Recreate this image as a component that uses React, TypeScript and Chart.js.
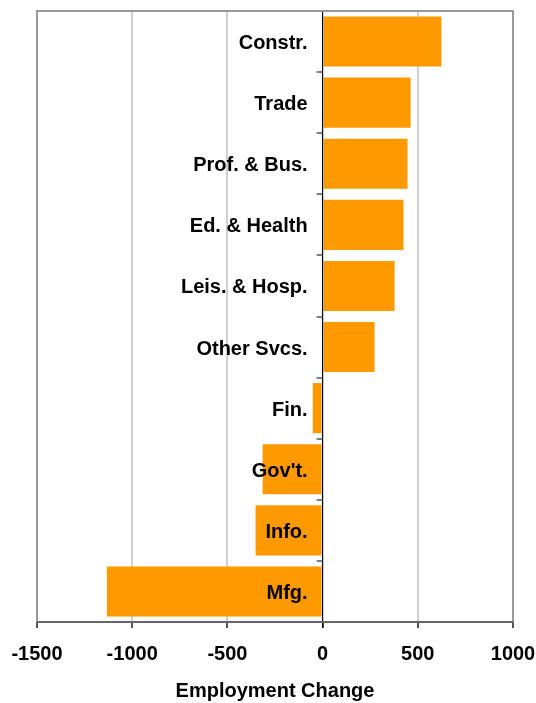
import React, { useEffect, useRef } from "react";
import { Chart, registerables } from "chart.js";

Chart.register(...registerables);

const categories = [
  "Constr.",
  "Trade",
  "Prof. & Bus.",
  "Ed. & Health",
  "Leis. & Hosp.",
  "Other Svcs.",
  "Fin.",
  "Gov't.",
  "Info.",
  "Mfg.",
];
const changes = [624, 462, 446, 425, 378, 273, -52, -315, -352, -1133];
const xMin = -1500;
const xMax = 1000;
const xStep = 500;
const axisTitle = "Employment Change";

const FONT = "'Liberation Sans', Arial, Helvetica, sans-serif";

const overlayPlugin = {
  id: "overlay",
  afterDatasetsDraw(chart: any) {
    const { ctx, chartArea, scales } = chart;
    const { left, right, top, bottom } = chartArea;
    const x0 = scales.x.getPixelForValue(0);
    const n = categories.length;
    const band = (bottom - top) / n;
    ctx.save();
    // category labels
    ctx.font = `bold 20px ${FONT}`;
    ctx.fillStyle = "#000";
    ctx.textAlign = "right";
    ctx.textBaseline = "middle";
    categories.forEach((c, i) => {
      const y = scales.y.getPixelForValue(i);
      ctx.fillText(c, x0 - 15, y + 2);
    });
    // zero line
    ctx.strokeStyle = "#000";
    ctx.lineWidth = 1.2;
    ctx.beginPath();
    ctx.moveTo(x0, top);
    ctx.lineTo(x0, bottom + 6);
    ctx.stroke();
    // category boundary ticks
    ctx.strokeStyle = "#555";
    ctx.lineWidth = 1.5;
    for (let i = 0; i <= n; i++) {
      const y = Math.round(top + i * band);
      ctx.beginPath();
      ctx.moveTo(x0 - 6, y);
      ctx.lineTo(x0, y);
      ctx.stroke();
    }
    // plot border
    ctx.strokeStyle = "#999";
    ctx.lineWidth = 2;
    ctx.beginPath();
    ctx.moveTo(left, bottom);
    ctx.lineTo(left, top);
    ctx.lineTo(right, top);
    ctx.lineTo(right, bottom);
    ctx.stroke();
    ctx.strokeStyle = "#666";
    ctx.beginPath();
    ctx.moveTo(left, bottom);
    ctx.lineTo(right, bottom);
    ctx.stroke();
    ctx.restore();
  },
};

export default function App() {
  const ref = useRef<HTMLCanvasElement | null>(null);
  useEffect(() => {
    if (!ref.current) return;
    const chart = new Chart(ref.current, {
      type: "bar",
      data: {
        labels: categories,
        datasets: [
          {
            data: changes,
            backgroundColor: "#FF9900",
            borderWidth: 0,
            barPercentage: 0.82,
            categoryPercentage: 1,
          },
        ],
      },
      options: {
        indexAxis: "y",
        responsive: false,
        animation: false,
        events: [],
        layout: { padding: { left: 37, right: 23, top: 11, bottom: 0 } },
        plugins: {
          legend: { display: false },
          tooltip: { enabled: false },
          title: { display: false },
        },
        scales: {
          y: { display: false },
          x: {
            min: xMin,
            max: xMax,
            border: { display: false },
            grid: {
              color: (c: any) => (c.tick && c.tick.value === 0 ? "rgba(0,0,0,0)" : "#d0d0d0"),
              lineWidth: 2,
              drawTicks: true,
              tickLength: 6,
              tickColor: "#555",
            },
            ticks: {
              stepSize: xStep,
              color: "#000",
              padding: 14,
              maxRotation: 0,
              callback: (v: any) => String(v),
              font: { family: FONT, size: 20, weight: "bold" },
            },
            title: {
              display: true,
              text: axisTitle,
              color: "#000",
              padding: { top: 0, bottom: 0 },
              font: { family: FONT, size: 20, weight: "bold" },
            },
            afterFit: (s: any) => {
              s.height = 81;
              s.paddingLeft = 0;
              s.paddingRight = 0;
            },
          },
        },
      },
      plugins: [overlayPlugin],
    } as any);
    return () => chart.destroy();
  }, []);
  return (
    <div style={{ position: "absolute", left: 0, top: 0, width: 536, height: 703, background: "#fff" }}>
      <canvas ref={ref} width={536} height={703} />
    </div>
  );
}
